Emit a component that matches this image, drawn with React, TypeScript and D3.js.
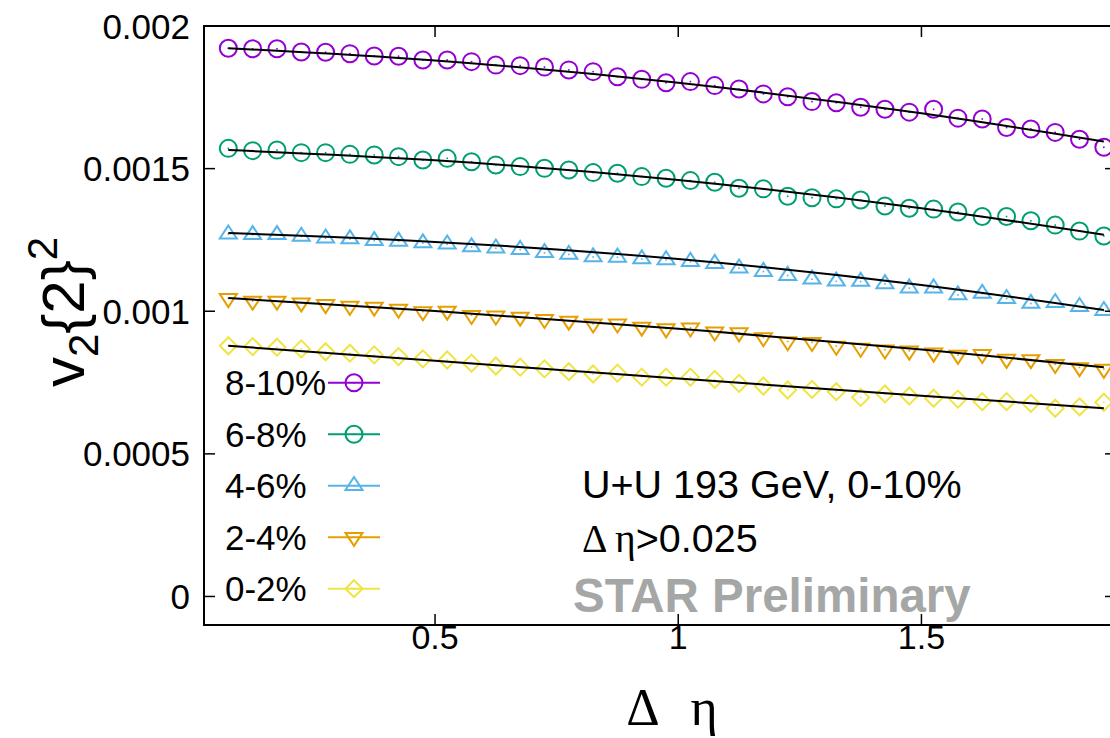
import React from 'react';
import * as d3 from 'd3';

// delta eta bins (bin centres)
const deta = [
  0.075, 0.125, 0.175, 0.225, 0.275, 0.325, 0.375, 0.425, 0.475, 0.525,
  0.575, 0.625, 0.675, 0.725, 0.775, 0.825, 0.875, 0.925, 0.975, 1.025,
  1.075, 1.125, 1.175, 1.225, 1.275, 1.325, 1.375, 1.425, 1.475, 1.525,
  1.575, 1.625, 1.675, 1.725, 1.775, 1.825, 1.875,
];

// v2{2}^2 per centrality
const v8_10 = [
  0.001922, 0.00192, 0.00192, 0.001909, 0.001908, 0.001903, 0.001895, 0.001894, 0.001881, 0.001881,
  0.001875, 0.001863, 0.001861, 0.001856, 0.001846, 0.00184, 0.001822, 0.001813, 0.001801, 0.001805,
  0.001791, 0.001779, 0.001762, 0.001752, 0.001735, 0.001731, 0.001715, 0.001708, 0.001698, 0.001708,
  0.001677, 0.001674, 0.001644, 0.001639, 0.001627, 0.001603, 0.001575,
];
const v6_8 = [
  0.001571, 0.001563, 0.001565, 0.001556, 0.001556, 0.00155, 0.001548, 0.001542, 0.00153, 0.001536,
  0.001524, 0.001513, 0.001507, 0.001501, 0.001495, 0.001486, 0.001484, 0.001472, 0.001466, 0.001458,
  0.001452, 0.001431, 0.001429, 0.001403, 0.001398, 0.001394, 0.00139, 0.001369, 0.001361, 0.001358,
  0.001348, 0.001332, 0.001332, 0.001317, 0.001302, 0.001281, 0.001264,
];
const v4_6 = [
  0.00127, 0.001268, 0.001268, 0.001262, 0.001256, 0.001253, 0.001247, 0.001245, 0.001239, 0.001235,
  0.001225, 0.001221, 0.001216, 0.001205, 0.001199, 0.00119, 0.001189, 0.001183, 0.00118, 0.001174,
  0.001167, 0.001151, 0.001139, 0.001125, 0.001112, 0.001105, 0.001104, 0.001096, 0.001081, 0.001081,
  0.001057, 0.001062, 0.001044, 0.001027, 0.00103, 0.001016, 0.001002,
];
const v2_4 = [
  0.001045, 0.001036, 0.001036, 0.00103, 0.001024, 0.001018, 0.001015, 0.001008, 0.000999, 0.001001,
  0.000986, 0.000984, 0.00098, 0.000972, 0.000966, 0.000956, 0.000956, 0.000945, 0.000939, 0.000942,
  0.000928, 0.000925, 0.000908, 0.000894, 0.000891, 0.000878, 0.000871, 0.000865, 0.000861, 0.000854,
  0.000846, 0.000849, 0.000832, 0.000831, 0.000814, 0.000803, 0.000797,
];
const v0_2 = [
  0.000879, 0.000876, 0.000874, 0.000868, 0.000858, 0.000853, 0.000847, 0.000841, 0.000833, 0.000829,
  0.000818, 0.000808, 0.000804, 0.000798, 0.000788, 0.00078, 0.000783, 0.000769, 0.000769, 0.000769,
  0.000761, 0.000747, 0.000738, 0.000724, 0.000726, 0.000718, 0.000698, 0.00071, 0.000703, 0.000695,
  0.000692, 0.000683, 0.000683, 0.000677, 0.00066, 0.000665, 0.000681,
];

const fitEta = [0.075, 0.5, 1.0, 1.5, 1.875];
const fit8_10 = [0.001922, 0.001879, 0.001801, 0.001694, 0.001595];
const fit6_8 = [0.001565, 0.001529, 0.00146, 0.001361, 0.001268];
const fit4_6 = [0.001274, 0.001243, 0.001183, 0.001092, 0.001004];
const fit2_4 = [0.001046, 0.001001, 0.000939, 0.000866, 0.000804];
const fit0_2 = [0.000879, 0.000826, 0.000764, 0.000704, 0.00066];

const labels = ['8-10%', '6-8%', '4-6%', '2-4%', '0-2%'];
const colors = ['#9400d3', '#009e73', '#56b4e9', '#e69f00', '#f0e442'];
const shapes = ['circle', 'circle', 'tri', 'itri', 'diamond'];
const values = [v8_10, v6_8, v4_6, v2_4, v0_2];
const fits = [fit8_10, fit6_8, fit4_6, fit2_4, fit0_2];

const xTicks = [0.5, 1, 1.5];
const yTicks = [0, 0.0005, 0.001, 0.0015, 0.002];
const yTickLabels = ['0', '0.0005', '0.001', '0.0015', '0.002'];

const SANS = 'Liberation Sans, Arial, Helvetica, sans-serif';
const SERIF = 'Liberation Serif, Times New Roman, serif';

function Marker({ shape, x, y, color }: { shape: string; x: number; y: number; color: string }) {
  const sw = 2;
  let el;
  if (shape === 'circle') {
    el = <circle cx={x} cy={y} r={8.5} fill="none" stroke={color} strokeWidth={sw} />;
  } else if (shape === 'tri') {
    el = <path d={`M${x},${y - 8.7}L${x + 8.5},${y + 4.3}L${x - 8.5},${y + 4.3}Z`} fill="none" stroke={color} strokeWidth={sw} />;
  } else if (shape === 'itri') {
    el = <path d={`M${x},${y + 8.7}L${x + 8.5},${y - 4.3}L${x - 8.5},${y - 4.3}Z`} fill="none" stroke={color} strokeWidth={sw} />;
  } else {
    el = <path d={`M${x},${y - 8.5}L${x + 8.5},${y}L${x},${y + 8.5}L${x - 8.5},${y}Z`} fill="none" stroke={color} strokeWidth={sw} />;
  }
  return (
    <g>
      {el}
      <rect x={x - 0.8} y={y - 0.8} width={1.6} height={1.6} fill={color} />
    </g>
  );
}

export default function App() {
  const W = 1110;
  const H = 738;
  const left = 204, right = 1116, top = 26, bottom = 625;

  const x = d3.scaleLinear().domain([0.025, 1.9]).range([left, right]);
  const y = d3.scaleLinear().domain([-0.0001, 0.002]).range([bottom, top]);

  const fitLine = d3.line<number>()
    .x((_, i) => x(fitEta[i]))
    .y((d) => y(d))
    .curve(d3.curveNatural);

  const legendY0 = 382.7;
  const legendStep = 51.5;

  return (
    <svg width={W} height={H} style={{ position: 'absolute', left: 0, top: 0, background: '#fff' }}>
      {/* data points */}
      {values.map((vals, s) => (
        <g key={labels[s]}>
          {vals.map((v, i) => (
            <Marker key={i} shape={shapes[s]} x={x(deta[i])} y={y(v)} color={colors[s]} />
          ))}
        </g>
      ))}
      {/* fits */}
      {fits.map((f, s) => (
        <path key={'fit' + s} d={fitLine(f) || ''} fill="none" stroke="#000" strokeWidth={2} />
      ))}

      {/* frame */}
      <rect x={left} y={top} width={right - left} height={bottom - top} fill="none" stroke="#000" strokeWidth={2} />
      {xTicks.map((t) => (
        <g key={'xt' + t}>
          <line x1={x(t)} x2={x(t)} y1={bottom} y2={bottom - 11} stroke="#000" strokeWidth={1.5} />
          <line x1={x(t)} x2={x(t)} y1={top} y2={top + 11} stroke="#000" strokeWidth={1.5} />
          <text x={x(t)} y={649} textAnchor="middle" fontFamily={SANS} fontSize={34}>{t}</text>
        </g>
      ))}
      {yTicks.map((t, i) => (
        <g key={'yt' + t}>
          <line x1={left} x2={left + 11} y1={y(t)} y2={y(t)} stroke="#000" strokeWidth={1.5} />
          <line x1={right} x2={right - 11} y1={y(t)} y2={y(t)} stroke="#000" strokeWidth={1.5} />
          <text x={190} y={y(t)} dy="0.36em" textAnchor="end" fontFamily={SANS} fontSize={35}>{yTickLabels[i]}</text>
        </g>
      ))}

      {/* legend */}
      {labels.map((lab, s) => {
        const ly = legendY0 + s * legendStep;
        return (
          <g key={'lg' + lab}>
            <text x={225} y={ly} dy="0.36em" fontFamily={SANS} fontSize={35}>{lab}</text>
            <line x1={328} x2={380} y1={ly} y2={ly} stroke={colors[s]} strokeWidth={2} />
            <Marker shape={shapes[s]} x={354} y={ly} color={colors[s]} />
          </g>
        );
      })}

      {/* annotations */}
      <text x={582} y={498} fontFamily={SANS} fontSize={39.5}>U+U 193 GeV, 0-10%</text>
      <text x={582} y={552} fontSize={39.5}>
        <tspan fontFamily={SERIF}>Δ η</tspan>
        <tspan fontFamily={SANS}>&gt;0.025</tspan>
      </text>
      <text x={573} y={612} fontFamily={SANS} fontWeight="bold" fontSize={47.5} fill="#a5a7a6">STAR Preliminary</text>

      {/* axis titles */}
      <text x={643} y={725} textAnchor="middle" fontFamily={SERIF} fontSize={52}>Δ</text>
      <text x={704} y={725} textAnchor="middle" fontFamily={SERIF} fontSize={52}>η</text>
      <g transform="translate(84,312) rotate(-90)">
        <text textAnchor="middle" fontFamily={SANS} fontSize={60}>
          <tspan>v</tspan>
          <tspan fontSize={42} dy={14}>2</tspan>
          <tspan dy={-14}>{'{2}'}</tspan>
          <tspan fontSize={42} dy={-27}>2</tspan>
        </text>
      </g>
    </svg>
  );
}
